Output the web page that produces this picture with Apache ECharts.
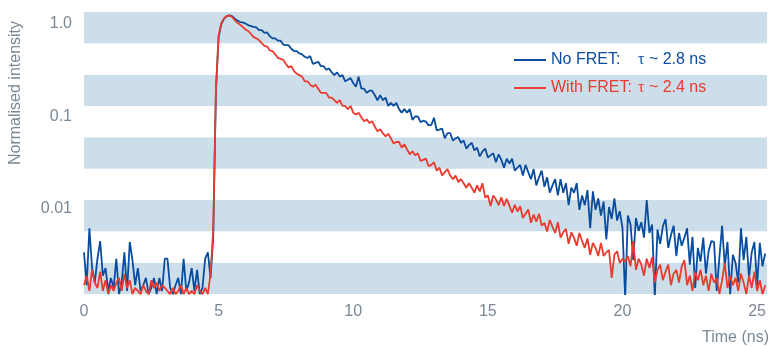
<!DOCTYPE html>
<html>
<head>
<meta charset="utf-8">
<script src="https://cdn.jsdelivr.net/npm/echarts@6/dist/echarts.min.js"></script>
<style>
  html, body { margin: 0; padding: 0; background: #fff; }
  #chart { width: 769px; height: 347px; }
</style>
</head>
<body>
<div id="chart"></div>
<script>
// time axis: one sample every 0.1 ns starting at 0
const startNs = 0
const stepNs = 0.1

// normalised intensity
const noFret = [
  0.0034, 0.0015, 0.0062, 0.0023, 0.0016, 0.0029, 0.0045, 0.0019, 0.0023, 0.0013,
  0.0018, 0.0014, 0.0029, 0.0012, 0.0016, 0.0034, 0.0013, 0.0044, 0.0028, 0.0015,
  0.0023, 0.0013, 0.0015, 0.0018, 0.0012, 0.0014, 0.0018, 0.0012, 0.0018, 0.0013,
  0.0029, 0.0029, 0.0014, 0.0012, 0.0015, 0.0018, 0.0012, 0.0029, 0.0013, 0.0016,
  0.0023, 0.0013, 0.0022, 0.0012, 0.0014, 0.0029, 0.0034, 0.0018,
  0.005, 0.19, 0.72, 1.0, 1.14, 1.21, 1.24, 1.22,
  1.14, 1.09, 1.05, 1.04, 1.01, 0.97, 0.95, 0.93,
  0.92, 0.86, 0.86, 0.80, 0.81, 0.74, 0.70, 0.70, 0.66, 0.66,
  0.60, 0.59, 0.59, 0.54, 0.51, 0.51, 0.48, 0.47, 0.44, 0.43,
  0.45, 0.37, 0.38, 0.39, 0.35, 0.35, 0.32, 0.33, 0.30, 0.28,
  0.30, 0.27, 0.28, 0.24, 0.25, 0.26, 0.23, 0.21, 0.27, 0.20,
  0.20, 0.18, 0.19, 0.19, 0.17, 0.15, 0.17, 0.15, 0.16, 0.13,
  0.14, 0.13, 0.14, 0.12, 0.11, 0.12, 0.11, 0.12, 0.092, 0.10,
  0.10, 0.087, 0.090, 0.088, 0.080, 0.081, 0.097, 0.071, 0.072, 0.074,
  0.058, 0.066, 0.066, 0.055, 0.058, 0.060, 0.052, 0.055, 0.045, 0.049,
  0.052, 0.043, 0.046, 0.037, 0.042, 0.045, 0.036, 0.038, 0.040, 0.032,
  0.039, 0.034, 0.028, 0.035, 0.031, 0.035, 0.026, 0.028, 0.030, 0.023,
  0.030, 0.025, 0.021, 0.027, 0.018, 0.022, 0.026, 0.0174, 0.022, 0.015,
  0.018, 0.021, 0.014, 0.021, 0.015, 0.019, 0.011, 0.017, 0.015, 0.019,
  0.0098, 0.014, 0.011, 0.016, 0.0062, 0.0155, 0.0098, 0.013, 0.0085, 0.012,
  0.0047, 0.0105, 0.0078, 0.013, 0.0075, 0.0095, 0.0062, 0.0011, 0.0085, 0.0068,
  0.0028, 0.0080, 0.0058, 0.0072, 0.0049, 0.0125, 0.0055, 0.0068, 0.0011, 0.0060,
  0.0042, 0.0065, 0.0078, 0.0038, 0.0052, 0.0066, 0.0031, 0.0055, 0.0040, 0.0049,
  0.0062, 0.0025, 0.0050, 0.0014, 0.0038, 0.0027, 0.0049, 0.0020, 0.0035, 0.0045,
  0.0044, 0.0013, 0.0030, 0.0066, 0.0024, 0.0044, 0.0012, 0.0032, 0.0026, 0.0016,
  0.0062, 0.0028, 0.0050, 0.0018, 0.0034, 0.0044, 0.0015, 0.0043, 0.0024, 0.0033
]

const withFret = [
  0.0015, 0.0019, 0.0013, 0.0022, 0.0016, 0.0014, 0.0021, 0.0013, 0.0017, 0.0012,
  0.0015, 0.0013, 0.0016, 0.0018, 0.0013, 0.0020, 0.0014, 0.0017, 0.0012, 0.0014,
  0.0013, 0.0012, 0.0015, 0.0013, 0.0012, 0.0017, 0.0014, 0.0016, 0.0013, 0.0015,
  0.0014, 0.0013, 0.0012, 0.0014, 0.0012, 0.0013, 0.0015, 0.0012, 0.0014, 0.0012,
  0.0013, 0.0012, 0.0015, 0.0013, 0.0012, 0.0014, 0.0012, 0.0020,
  0.006, 0.2, 0.75, 1.02, 1.15, 1.22, 1.23, 1.19,
  1.10, 1.03, 0.98, 0.93, 0.87, 0.84, 0.78, 0.72,
  0.70, 0.67, 0.62, 0.58, 0.57, 0.52, 0.51, 0.47, 0.43, 0.42,
  0.41, 0.37, 0.34, 0.35, 0.31, 0.29, 0.28, 0.27, 0.24, 0.24,
  0.22, 0.21, 0.22, 0.20, 0.18, 0.18, 0.18, 0.16, 0.16, 0.15,
  0.14, 0.15, 0.13, 0.13, 0.12, 0.13, 0.11, 0.105, 0.11, 0.098,
  0.089, 0.093, 0.085, 0.089, 0.078, 0.069, 0.073, 0.066, 0.061, 0.065,
  0.058, 0.051, 0.053, 0.053, 0.046, 0.050, 0.044, 0.039, 0.042, 0.038,
  0.040, 0.033, 0.034, 0.035, 0.029, 0.030, 0.032, 0.026, 0.028, 0.023,
  0.025, 0.027, 0.023, 0.021, 0.023, 0.0195, 0.021, 0.019, 0.017, 0.019,
  0.017, 0.015, 0.018, 0.0155, 0.019, 0.0133, 0.014, 0.0108, 0.014, 0.0127,
  0.011, 0.0134, 0.0108, 0.0129, 0.0108, 0.0091, 0.0111, 0.0094, 0.0107, 0.008,
  0.0089, 0.0099, 0.0071, 0.0087, 0.0073, 0.0089, 0.0066, 0.0071, 0.0057, 0.0076,
  0.0064, 0.0055, 0.0072, 0.0049, 0.0056, 0.0061, 0.0042, 0.0056, 0.0049, 0.0040,
  0.0055, 0.0045, 0.0038, 0.0048, 0.0032, 0.0043, 0.0038, 0.0031, 0.0043, 0.0031,
  0.0034, 0.0036, 0.0018, 0.0032, 0.0035, 0.0026, 0.0029, 0.0027, 0.0031, 0.0024,
  0.0045, 0.0022, 0.0029, 0.0025, 0.0019, 0.0029, 0.0023, 0.0030, 0.0016, 0.0022,
  0.0025, 0.0017, 0.0021, 0.0025, 0.0015, 0.0020, 0.0022, 0.0016, 0.0024, 0.0028,
  0.0015, 0.0019, 0.0013, 0.0021, 0.0017, 0.0022, 0.0015, 0.0019, 0.0013, 0.0020,
  0.0016, 0.0018, 0.0012, 0.0017, 0.0026, 0.0014, 0.0019, 0.0015, 0.0018, 0.0013,
  0.0020, 0.0016, 0.0012, 0.0019, 0.0014, 0.0021, 0.0013, 0.0017, 0.0012, 0.0015
]

const seriesNames = ['No FRET', 'With FRET']
const lifetimes = ['2.8 ns', '2.4 ns']
const yTickValues = [1, 0.1, 0.01]
const yTickLabels = ['1.0', '0.1', '0.01']

const BLUE = '#0a4c9d'
const RED = '#eb3a2e'
const BAND = '#cddeeb'
const GREY = '#7a8896'
const FONT = '"Liberation Sans", Arial, sans-serif'

const toPairs = vals => vals.map((v, i) => [+(startNs + i * stepNs).toFixed(1), v])

const chart = echarts.init(document.getElementById('chart'))

chart.setOption({
  animation: false,
  backgroundColor: '#fff',
  grid: { left: 84, right: 0, top: 12, bottom: 53 },
  legend: {
    orient: 'vertical',
    left: 509,
    top: 47,
    icon: 'rect',
    itemWidth: 32,
    itemHeight: 2,
    itemGap: 12,
    data: [
      { name: seriesNames[0], textStyle: { color: BLUE } },
      { name: seriesNames[1], textStyle: { color: RED } },
    ],
    formatter: name => {
      const i = seriesNames.indexOf(name)
      return `{a|${name}:}{t|τ}{b| ~ ${lifetimes[i]}}`
    },
    textStyle: {
      fontFamily: FONT,
      fontSize: 16,
      rich: {
        a: { width: 87, fontSize: 16, fontFamily: FONT, lineHeight: 18 },
        t: { fontSize: 16, fontFamily: '"Liberation Serif", "DejaVu Serif", serif', lineHeight: 18 },
        b: { fontSize: 16, fontFamily: FONT, lineHeight: 18 },
      },
    },
  },
  xAxis: {
    type: 'value',
    min: 0,
    max: 25.37,
    interval: 5,
    axisLine: { show: false },
    axisTick: { show: false },
    splitLine: { show: false },
    axisLabel: { color: GREY, fontSize: 16, fontFamily: FONT, margin: 10, showMaxLabel: false },
  },
  yAxis: [
    {
      type: 'log',
      logBase: 10,
      min: 0.001205,
      max: 1.348,
      axisLine: { show: false },
      axisTick: { show: false },
      splitLine: { show: false },
      axisLabel: {
        color: GREY,
        fontSize: 16,
        fontFamily: FONT,
        margin: 12,
        showMinLabel: false,
        showMaxLabel: false,
        formatter: v => {
          const i = yTickValues.findIndex(t => Math.abs(Math.log10(v) - Math.log10(t)) < 0.01)
          return i >= 0 ? yTickLabels[i] : ''
        },
      },
    },
    {
      // background stripes
      type: 'value',
      min: 0,
      max: 9,
      interval: 1,
      axisLine: { show: false },
      axisTick: { show: false },
      axisLabel: { show: false },
      splitLine: { show: false },
      splitArea: { show: true, areaStyle: { color: [BAND, '#ffffff'] } },
    },
  ],
  graphic: [
    {
      type: 'text',
      x: 16,
      y: 93,
      rotation: Math.PI / 2,
      style: { text: 'Normalised intensity', fill: GREY, font: `16px ${FONT}`, align: 'center', verticalAlign: 'middle' },
    },
    {
      type: 'text',
      x: 702,
      y: 338,
      style: { text: 'Time (ns)', fill: GREY, font: `16px ${FONT}`, align: 'left', verticalAlign: 'middle' },
    },
  ],
  series: [
    {
      name: seriesNames[0],
      type: 'line',
      data: toPairs(noFret),
      symbol: 'none',
      clip: true,
      lineStyle: { color: BLUE, width: 1.8 },
      itemStyle: { color: BLUE },
      z: 3,
    },
    {
      name: seriesNames[1],
      type: 'line',
      data: toPairs(withFret),
      symbol: 'none',
      clip: true,
      lineStyle: { color: RED, width: 1.8 },
      itemStyle: { color: RED },
      z: 4,
    },
  ],
})
</script>
</body>
</html>
